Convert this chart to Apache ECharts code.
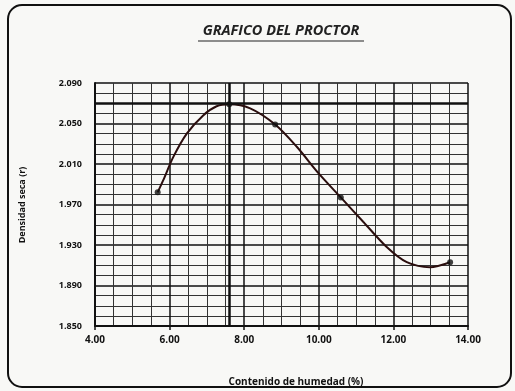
<!DOCTYPE html>
<html><head><meta charset="utf-8">
<script src="https://cdn.jsdelivr.net/npm/echarts@6/dist/echarts.min.js"></script>
<style>html,body{margin:0;padding:0;background:#f8f8f6;}#c{width:515px;height:391px;}</style>
</head><body><div id="c"></div>
<script>
// Measured points (humedad %, densidad seca)
const moisture = [5.68, 7.60, 8.83, 10.59, 13.52];
const density  = [1.982, 2.069, 2.049, 1.977, 1.913];
// Trend curve
const curveX = [5.68, 5.83, 6.10, 6.46, 6.90, 7.26, 7.60, 8.16, 8.83, 9.41, 9.99, 10.59, 11.19, 11.82, 12.36, 12.98, 13.52];
const curveY = [1.982, 1.994, 2.017, 2.040, 2.058, 2.067, 2.069, 2.065, 2.049, 2.027, 2.001, 1.977, 1.953, 1.928, 1.913, 1.908, 1.913];
const optMoisture = 7.60;
const maxDensity = 2.069;
const xTicks = [4, 14, 2];
const yTicks = [1.85, 2.09, 0.04];

const chart = echarts.init(document.getElementById('c'));
const F = '"Open Sans", "DejaVu Sans", sans-serif';
chart.setOption({
  backgroundColor: '#f8f8f6',
  animation: false,
  graphic: [
    { type: 'rect', shape: { x: 8, y: 5, width: 503, height: 382, r: 14 },
      style: { fill: 'none', stroke: '#111', lineWidth: 2 }, z: 0 },
    { type: 'text', x: 281, y: 31, style: { text: 'GRAFICO DEL PROCTOR', fontFamily: F, fontSize: 14.5, fontWeight: 'bold', fontStyle: 'italic', fill: '#222', textAlign: 'center', textVerticalAlign: 'middle' } },
    { type: 'line', shape: { x1: 198, y1: 41, x2: 364, y2: 41 }, style: { stroke: '#222', lineWidth: 1.2 } },
    { type: 'text', x: 296, y: 382, style: { text: 'Contenido de humedad (%)', fontFamily: F, fontSize: 10, fontWeight: 'bold', fill: '#111', textAlign: 'center', textVerticalAlign: 'middle' } },
    { type: 'text', x: 22, y: 205, rotation: Math.PI / 2, style: { text: 'Densidad seca (r)', fontFamily: F, fontSize: 9, fontWeight: 'bold', fill: '#111', textAlign: 'center', textVerticalAlign: 'middle' } }
  ],
  grid: { left: 95, right: 47, top: 83, bottom: 65 },
  xAxis: {
    type: 'value', min: xTicks[0], max: xTicks[1], interval: xTicks[2],
    axisLine: { show: true, lineStyle: { color: '#111', width: 2 } },
    axisTick: { show: true, length: 4, inside: false, lineStyle: { color: '#111', width: 1.5 } },
    axisLabel: { margin: 9, fontFamily: F, fontSize: 10, fontWeight: 'bold', color: '#111', formatter: v => v.toFixed(2) },
    splitLine: { show: true, lineStyle: { color: '#111', width: 1.5 } },
    minorTick: { show: false, splitNumber: 4 },
    minorSplitLine: { show: true, lineStyle: { color: '#333', width: 1 } }
  },
  yAxis: {
    type: 'value', min: yTicks[0], max: yTicks[1], interval: yTicks[2],
    axisLine: { show: true, lineStyle: { color: '#111', width: 2 } },
    axisTick: { show: false },
    axisLabel: { margin: 13, fontFamily: F, fontSize: 9, fontWeight: 'bold', color: '#111', formatter: v => v.toFixed(3) },
    splitLine: { show: true, lineStyle: { color: '#111', width: 1.5 } },
    minorTick: { show: false, splitNumber: 4 },
    minorSplitLine: { show: true, lineStyle: { color: '#333', width: 1 } }
  },
  series: [
    {
      type: 'line', data: curveX.map((x, i) => [x, curveY[i]]), smooth: 0.3, showSymbol: false,
      lineStyle: { color: '#2a0d0d', width: 2 }, z: 3,
      markLine: {
        silent: true, symbol: 'none', label: { show: false },
        lineStyle: { color: '#111', width: 2.5, type: 'solid' },
        data: [{ yAxis: maxDensity }, { xAxis: optMoisture }]
      }
    },
    {
      type: 'scatter', data: moisture.map((x, i) => [x, density[i]]), symbol: 'circle', symbolSize: 6,
      itemStyle: { color: '#111' }, z: 4
    }
  ]
});
</script></body></html>
